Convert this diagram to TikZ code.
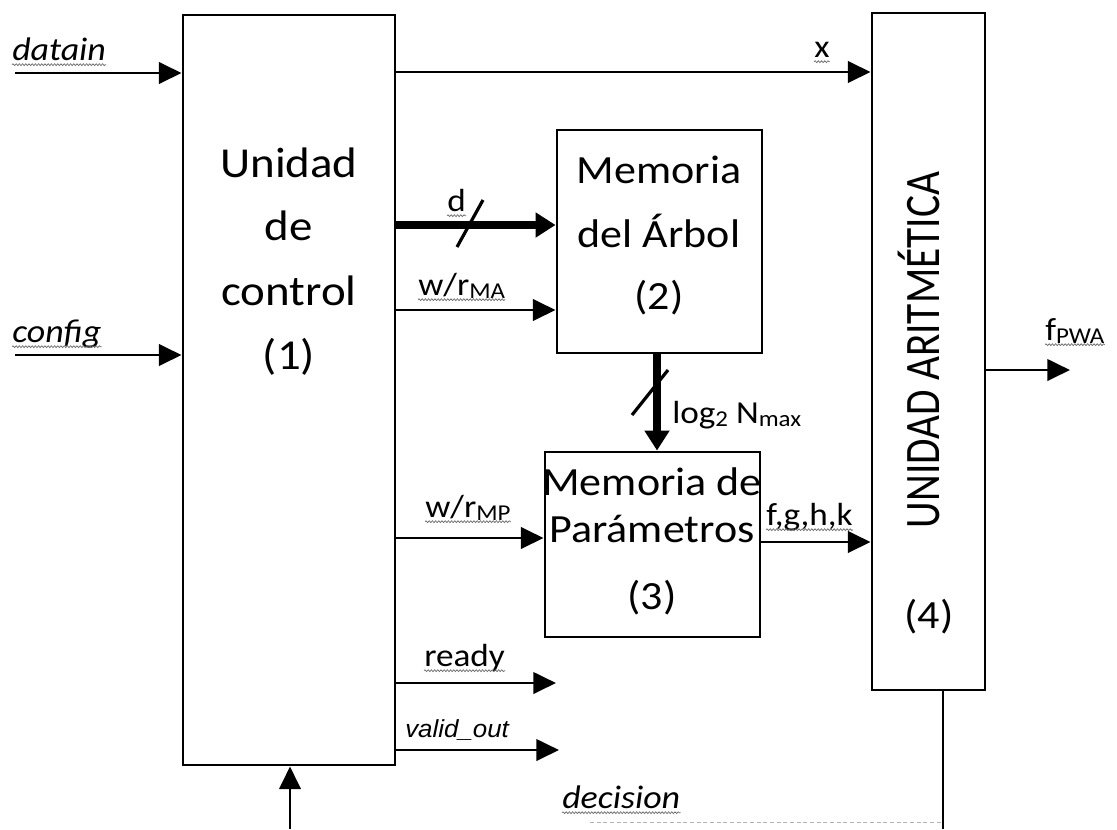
\documentclass[tikz,border=0pt]{standalone}
\usepackage{fontspec}
\setmainfont{Carlito}[FakeStretch=1.1]
\newfontfamily\uafont{Carlito}
\newfontfamily\arialfont{Liberation Sans}[FakeStretch=1.05]
\usetikzlibrary{arrows.meta,decorations.pathmorphing,fit}
\newcommand\mysub[1]{\raisebox{-0.12em}{\fontsize{17}{17}\selectfont #1}}
\tikzset{
  box/.style={draw, line width=2.2pt, inner sep=0pt},
  arr/.style={line width=2.2pt, -{Triangle[length=17pt,width=16pt]}},
  bus/.style={line width=6.5pt, -{Triangle[length=15pt,width=18pt]}},
  plain/.style={line width=2.2pt},
  slashmark/.style={line width=2.4pt},
  lbl/.style={inner sep=0pt, anchor=base west, font=\fontsize{24}{26}\selectfont},
  ilbl/.style={lbl, font=\fontsize{24.5}{26}\selectfont\itshape},
  bigc/.style={inner sep=0pt, anchor=base, font=\fontsize{32}{36}\selectfont},
  bigm/.style={inner sep=0pt, anchor=base, font=\fontsize{30}{34}\selectfont},
  squig/.style={draw=black!60, line width=0.5pt, decorate,
    decoration={snake, segment length=2.4pt, amplitude=0.7pt}},
}
\newcommand\sq[1]{\draw[squig] ([yshift=-3.5pt]#1.base west) -- ([yshift=-3.5pt]#1.base east);}
\begin{document}
\begin{tikzpicture}[x=0.75pt,y=-0.75pt]
\useasboundingbox (0,0) rectangle (1117,829);
\fill[white] (0,0) rectangle (1117,829);

% blocks
\node[box, fit={(183,15) (395,765)}] (ctrl) {};
\node[box, fit={(557,130) (762,353)}] (ma) {};
\node[box, fit={(545,452) (760,637)}] (mp) {};
\node[box, fit={(872,13) (985,690)}] (ua) {};

% block texts
\node[bigc] (t1a) at (289,177) {Unidad};
\node[bigc] (t1b) at (289,240) {de};
\node[bigc] (t1c) at (289,305) {control};
\node[bigc] (t1d) at (289,369) {(1)};
\node[bigm] (t2a) at (659,183) {Memoria};
\node[bigm] (t2b) at (659,247) {del Árbol};
\node[bigm] (t2c) at (659,309) {(2)};
\node[bigm] (t3a) at (652,495) {Memoria de};
\node[bigm] (t3b) at (652,542) {Parámetros};
\node[bigm] (t3c) at (652,609) {(3)};
\node[inner sep=0pt] (t4a) at (919,350) {\rotatebox{90}{\scalebox{1}[1.2]{\uafont\fontsize{31}{34}\selectfont UNIDAD ARITMÉTICA}}};
\node[bigm] (t4b) at (929,628) {(4)};

% free ends
\coordinate (din) at (15,73);
\coordinate (cin) at (15,355);
\coordinate (rdy) at (556,683);
\coordinate (vout) at (559,750);
\coordinate (fout) at (1070,370);
\coordinate (decin) at (290,829);
\coordinate (decout) at (943,829);

% connectors
\draw[arr] (din) -- (ctrl.west |- din);
\draw[arr] (cin) -- (ctrl.west |- cin);
\draw[arr] (ctrl.east |- 0,72) -- (ua.west |- 0,72);
\draw[bus] (ctrl.east |- 0,225) -- (ma.west |- 0,225);
\draw[arr] (ctrl.east |- 0,310) -- (ma.west |- 0,310);
\draw[bus] (657,0 |- ma.south) -- (657,0 |- mp.north);
\draw[arr] (ctrl.east |- 0,538) -- (mp.west |- 0,538);
\draw[arr] (mp.east |- 0,542) -- (ua.west |- 0,542);
\draw[arr] (ctrl.east |- rdy) -- (rdy);
\draw[arr] (ctrl.east |- vout) -- (vout);
\draw[arr] (ua.east |- fout) -- (fout);
\draw[plain] (943,0 |- ua.south) -- (decout);
\draw[arr] (decin) -- (ctrl.south -| decin);
\draw[black!30, line width=0.6pt, dash pattern=on 3pt off 2pt] (590,822) -- (943,822);

% bus slashes
\draw[slashmark] (457,247) -- (483,200);
\draw[slashmark] (632,415) -- (668,370);

% labels
\node[ilbl] (ldatain) at (12,60) {datain}; \sq{ldatain}
\node[ilbl] (lconfig) at (12,342) {config}; \sq{lconfig}
\node[lbl, anchor=base] (lx) at (822,57) {x}; \sq{lx}
\node[lbl] (ld) at (447,211) {d}; \sq{ld}
\node[lbl] (lwma) at (418,295) {w/r\mysub{MA}}; \sq{lwma}
\node[lbl] (llog) at (672,423) {log\mysub{2} N\mysub{max}};
\node[lbl] (lwmp) at (425,517) {w/r\mysub{MP}}; \sq{lwmp}
\node[lbl] (lfghk) at (766,525) {f,g,h,k}; \sq{lfghk}
\node[lbl] (lready) at (424,666) {ready}; \sq{lready}
\node[lbl, font=\arialfont\fontsize{18.5}{20}\selectfont\itshape] (lvalid) at (405,737) {valid\_out};
\node[ilbl] (ldec) at (562,808) {decision}; \sq{ldec}
\node[lbl] (lfpwa) at (1045,340) {f\mysub{PWA}}; \sq{lfpwa}
\end{tikzpicture}
\end{document}
